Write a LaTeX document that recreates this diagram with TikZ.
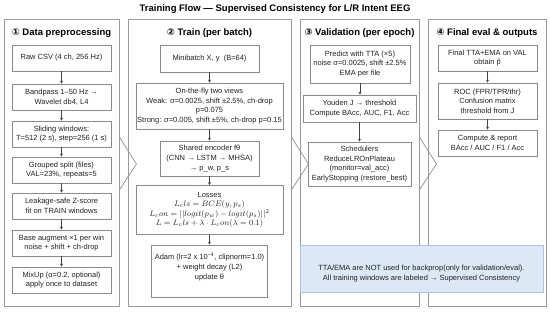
\documentclass[tikz,border=0pt]{standalone}
\usepackage{fontspec}
\setmainfont{Liberation Sans}
\newfontfamily\dejavu{DejaVu Sans}
\usetikzlibrary{arrows.meta,calc}
\definecolor{panelgray}{HTML}{9A9A9A}
\definecolor{boxgray}{HTML}{8A8A8A}
\definecolor{arrowgray}{HTML}{444444}
\definecolor{txtgray}{HTML}{222222}
\definecolor{notefill}{HTML}{DCE8F6}
\definecolor{notedraw}{HTML}{A8C4E8}
\tikzset{
 panel/.style={draw=panelgray, line width=0.8pt, minimum height=287pt, inner sep=0pt},
 hdr/.style={font=\bfseries\fontsize{9.5}{11}\selectfont, text=black},
 bx/.style={draw=boxgray, line width=0.7pt, fill=white, align=center, inner sep=1pt,
   text=txtgray, font=\fontsize{7.5}{9.6}\selectfont, minimum width=99pt},
 bxtext/.style={align=center, inner sep=1pt, text=txtgray, font=\fontsize{7.5}{9.6}\selectfont},
 arr/.style={draw=arrowgray, line width=0.6pt, -{Stealth[length=3pt,width=3pt]}},
 chev/.style={draw=panelgray, line width=0.8pt},
 note/.style={draw=notedraw, fill=notefill, line width=0.7pt, minimum width=243pt, minimum height=47pt},
 notetext/.style={align=center, text=txtgray, font=\fontsize{7.5}{10}\selectfont}
}
\begin{document}
\begin{tikzpicture}[x=1pt,y=-1pt]
\useasboundingbox (0,0) rectangle (550,312);
\fill[white] (0,0) rectangle (550,312);

\node[font=\bfseries\fontsize{9.5}{11}\selectfont] (title) at (275,9.5) {Training Flow — Supervised Consistency for L/R Intent EEG};

% panels
\node[panel, minimum width=115pt] (p1) at (61.5,162.5) {};
\node[panel, minimum width=163pt] (p2) at (209.5,162.5) {};
\node[panel, minimum width=119pt] (p3) at (359.5,162.5) {};
\node[panel, minimum width=118pt] (p4) at (487,162.5) {};

\node[hdr] (h1) at (61.5,33) {{\dejavu ①} Data preprocessing};
\node[hdr] (h2) at (209.5,33) {{\dejavu ②} Train (per batch)};
\node[hdr] (h3) at (359.5,33) {{\dejavu ③} Validation (per epoch)};
\node[hdr] (h4) at (487,33) {{\dejavu ④} Final eval \& outputs};

% panel 1
\node[bx, minimum height=26pt] (a1) at (61.5,58) {Raw CSV (4 ch, 256 Hz)};
\node[bx, minimum height=26pt] (a2) at (61.5,97) {Bandpass 1–50 Hz →\\Wavelet db4, L4};
\node[bx, minimum height=26pt] (a3) at (61.5,134) {Sliding windows:\\T=512 (2 s), step=256 (1 s)};
\node[bx, minimum height=26pt] (a4) at (61.5,170) {Grouped split (files)\\VAL=23\%, repeats=5};
\node[bx, minimum height=26pt] (a5) at (61.5,206) {Leakage-safe Z-score\\fit on TRAIN windows};
\node[bx, minimum height=26pt] (a6) at (61.5,243) {Base augment ×1 per win\\noise + shift + ch-drop};
\node[bx, minimum height=26pt] (a7) at (61.5,280) {MixUp (α=0.2, optional)\\apply once to dataset};
\draw[arr] (a1) -- (a2);
\draw[arr] (a2) -- (a3);
\draw[arr] (a3) -- (a4);
\draw[arr] (a4) -- (a5);
\draw[arr] (a5) -- (a6);
\draw[arr] (a6) -- (a7);

% panel 2
\node[bx, minimum height=27pt] (b1) at (209.5,58.5) {Minibatch X, y\ \ (B=64)};
\node[bx, minimum width=147pt, minimum height=46pt] (b2) at (209.5,106) {On-the-fly two views\\Weak: σ=0.0025, shift ±2.5\%, ch-drop\\p=0.075\\\makebox[0pt]{Strong: σ=0.005, shift ±5\%, ch-drop p=0.15}};
\node[bx, minimum height=35pt] (b3) at (209.5,158.5) {Shared encoder fθ\\(CNN → LSTM → MHSA)\\→ p\_w, p\_s};
\node[bx, minimum width=147pt, minimum height=49pt, font=\fontsize{8}{9.6}\selectfont] (b4) at (209.5,210) {{\fontsize{7.5}{9}\selectfont Losses}\\$L_c ls = BCE(y, p_s)$\\$L_c on = ||logit(p_w) - logit(p_s)||^2$\\$L = L_c ls + \lambda\cdot L_c on (\lambda = 0.1)$};
\node[bx, minimum width=116pt, minimum height=52pt] (b5) at (209.5,271) {};
\node[bxtext] (b5t) at ($(b5.center)+(0,-4)$) {Adam (lr=2 x 10\textsuperscript{−4}, clipnorm=1.0)\\+ weight decay (L2)\\update θ};
\draw[arr] (b1) -- (b2);
\draw[arr] (b2) -- (b3);
\draw[arr] (b3) -- (b4);
\draw[arr] (b4) -- (b5);

% panel 3
\node[bx, minimum width=100pt, minimum height=38pt] (c1) at (360,64) {Predict with TTA (×5)\\noise σ=0.0025, shift ±2.5\%\\EMA per file};
\node[bx, minimum width=113pt, minimum height=27pt] (c2) at (359.5,108.5) {Youden J → threshold\\Compute BAcc, AUC, F1, Acc};
\node[bx, minimum width=103pt, minimum height=44pt] (c3) at (359.5,164) {Schedulers\\ReduceLROnPlateau\\(monitor=val\_acc)\\EarlyStopping (restore\_best)};
\draw[arr] (c1.south) -- (c1.south |- c2.north);
\draw[arr] (c2.south) -- (c2.south |- c3.north);

% panel 4
\node[bx, minimum height=26pt] (d1) at (487.5,58) {Final TTA+EMA on VAL\\obtain \^{p}};
\node[bx, minimum height=36pt] (d2) at (487.5,101) {ROC (FPR/TPR/thr)\\Confusion matrix\\threshold from J};
\node[bx, minimum height=26pt] (d3) at (487.5,143) {Compute \& report\\BAcc / AUC / F1 / Acc};
\draw[arr] (d1) -- (d2);
\draw[arr] (d2) -- (d3);

% chevrons between panels
\draw[chev] ([yshift=25.5pt]p1.east) -- ([xshift=17pt,yshift=-1.5pt]p1.east) -- ([yshift=-27.5pt]p1.east);
\draw[chev] ([yshift=25.5pt]p2.east) -- ([xshift=17pt,yshift=-1.5pt]p2.east) -- ([yshift=-27.5pt]p2.east);
\draw[chev] ([yshift=25.5pt]p3.east) -- ([xshift=17pt,yshift=-1.5pt]p3.east) -- ([yshift=-27.5pt]p3.east);

% note
\node[note] (n1) at (421.5,268.5) {};
\node[notetext] (n1t) at ($(n1.center)+(0,5)$) {TTA/EMA are NOT used for backprop(only for validation/eval).\\All training windows are labeled → Supervised Consistency};
\end{tikzpicture}
\end{document}
